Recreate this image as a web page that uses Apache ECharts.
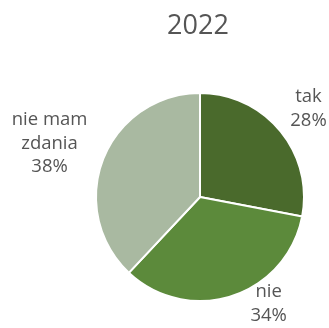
<!DOCTYPE html>
<html><head><meta charset="utf-8">
<script src="https://cdn.jsdelivr.net/npm/echarts@6/dist/echarts.min.js"></script>
<style>html,body{margin:0;padding:0;background:#fff}#c{width:329px;height:328px}</style>
</head><body><div id="c"></div>
<script>
const title = '2022';
const categories = ['tak', 'nie', 'nie mam\nzdania'];
const values = [28, 34, 38];
const colors = ['#4a6a2c', '#5c8a3b', '#a9b9a1'];
const labelShift = [[-18, -3], [4, 0], [17, -4]];

const chart = echarts.init(document.getElementById('c'));
chart.setOption({
  animation: false,
  title: {text: title, left: 193, top: 8, textAlign: 'center',
    textStyle: {fontFamily: 'Open Sans', fontSize: 27, fontWeight: 'normal', color: '#555'}},
  series: [{
    type: 'pie',
    center: [200, 197],
    radius: 104,
    startAngle: 90,
    clockwise: true,
    itemStyle: {borderColor: '#fff', borderWidth: 2},
    label: {show: true, position: 'outside', formatter: p => p.name + '\n' + p.value + '%',
      fontFamily: 'Open Sans', fontSize: 18.5, color: '#555', lineHeight: 23.5, align: 'center',
      overflow: 'none'},
    labelLine: {show: false, length: 30, length2: 0},
    labelLayout: p => ({
      x: p.labelRect.x + p.labelRect.width / 2 + labelShift[p.dataIndex][0],
      y: p.labelRect.y + p.labelRect.height / 2 + labelShift[p.dataIndex][1],
      align: 'center', verticalAlign: 'middle'}),
    data: categories.map((c, i) => ({name: c, value: values[i], itemStyle: {color: colors[i]}}))
  }]
});
</script></body></html>
